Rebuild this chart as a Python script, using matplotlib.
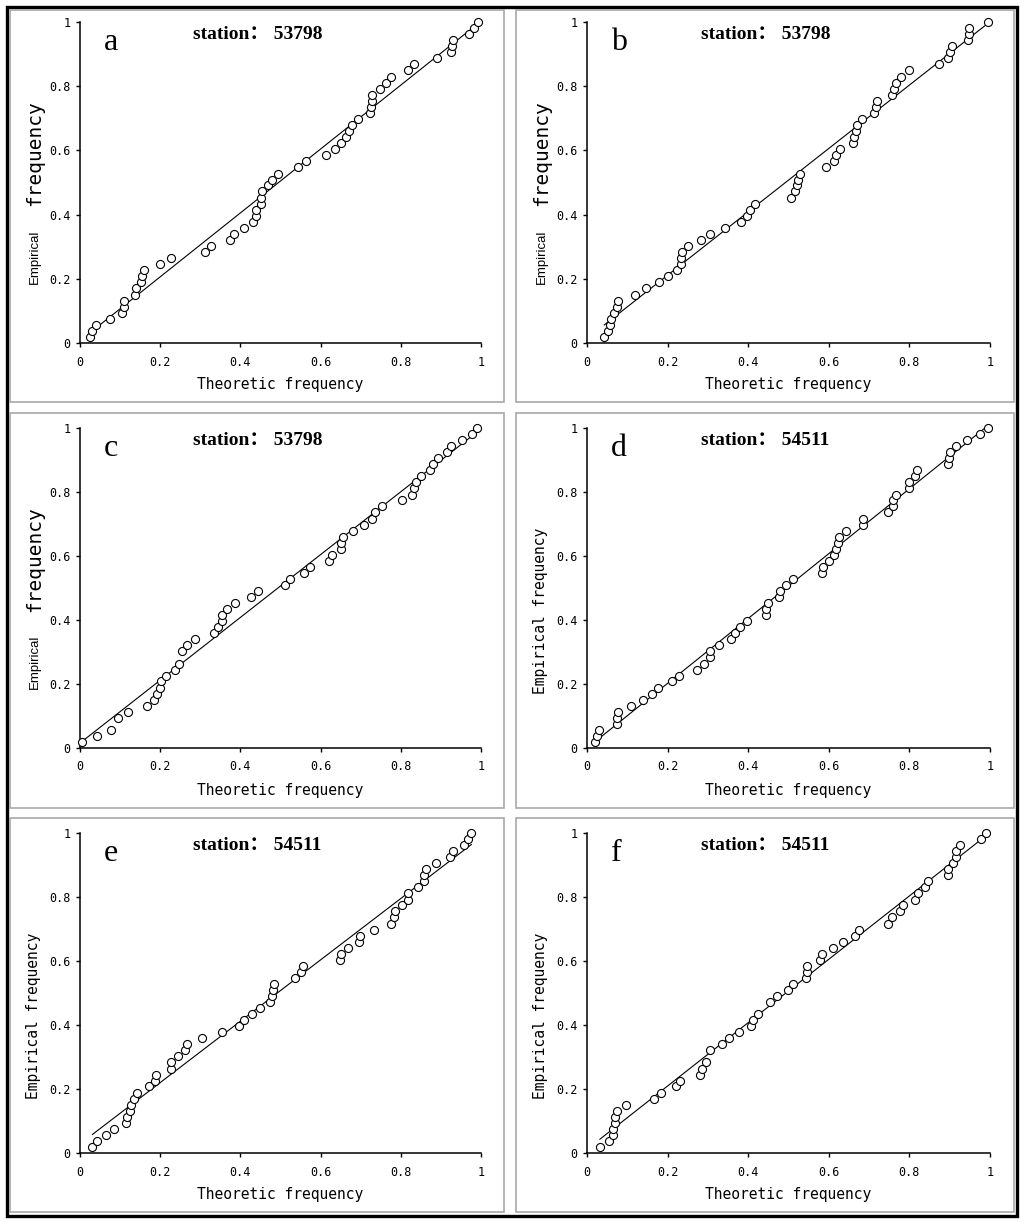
import numpy as np
import matplotlib
matplotlib.use("Agg")
import matplotlib.pyplot as plt
from matplotlib.patches import Rectangle

# ---------------- data ----------------
panel_letters = ["a", "b", "c", "d", "e", "f"]
stations = ["53798", "53798", "53798", "54511", "54511", "54511"]
tick_values = [0, 0.2, 0.4, 0.6, 0.8, 1]
tick_labels = ["0", "0.2", "0.4", "0.6", "0.8", "1"]

empirical_53 = [0.019, 0.038, 0.057, 0.075, 0.094, 0.113, 0.132, 0.151, 0.170, 0.189,
                0.208, 0.226, 0.245, 0.264, 0.283, 0.302, 0.321, 0.340, 0.358, 0.377,
                0.396, 0.415, 0.434, 0.453, 0.472, 0.491, 0.509, 0.528, 0.547, 0.566,
                0.585, 0.604, 0.623, 0.642, 0.660, 0.679, 0.698, 0.717, 0.736, 0.755,
                0.774, 0.792, 0.811, 0.830, 0.849, 0.868, 0.887, 0.906, 0.925, 0.943,
                0.962, 0.981, 1.000]

empirical_c = [0.019, 0.038, 0.057, 0.094, 0.113, 0.132, 0.151, 0.170, 0.189, 0.208,
               0.226, 0.245, 0.264, 0.302, 0.321, 0.340, 0.358, 0.377, 0.396, 0.415,
               0.434, 0.453, 0.472, 0.491, 0.509, 0.528, 0.547, 0.566, 0.585, 0.604,
               0.623, 0.642, 0.660, 0.679, 0.698, 0.717, 0.736, 0.755, 0.774, 0.792,
               0.811, 0.830, 0.849, 0.868, 0.887, 0.906, 0.925, 0.943, 0.962, 0.981,
               1.000]

empirical_f = [0.019, 0.038, 0.057, 0.075, 0.094, 0.113, 0.132, 0.151, 0.170, 0.189,
               0.208, 0.226, 0.245, 0.264, 0.283, 0.321, 0.340, 0.358, 0.377, 0.396,
               0.415, 0.434, 0.472, 0.491, 0.509, 0.528, 0.547, 0.566, 0.585, 0.604,
               0.623, 0.642, 0.660, 0.679, 0.698, 0.717, 0.736, 0.755, 0.774, 0.792,
               0.811, 0.830, 0.849, 0.868, 0.887, 0.906, 0.925, 0.943, 0.962, 0.981,
               1.000]

theoretic_a = [0.024, 0.031, 0.039, 0.076, 0.105, 0.109, 0.110, 0.138, 0.139, 0.153,
               0.154, 0.159, 0.199, 0.226, 0.312, 0.327, 0.373, 0.383, 0.409, 0.432,
               0.438, 0.440, 0.451, 0.452, 0.454, 0.469, 0.480, 0.495, 0.544, 0.563,
               0.614, 0.637, 0.650, 0.663, 0.671, 0.678, 0.694, 0.723, 0.725, 0.727,
               0.729, 0.747, 0.764, 0.776, 0.817, 0.832, 0.890, 0.925, 0.927, 0.929,
               0.969, 0.983, 0.993]

theoretic_b = [0.043, 0.052, 0.056, 0.059, 0.067, 0.074, 0.078, 0.119, 0.147, 0.178,
               0.200, 0.224, 0.233, 0.234, 0.235, 0.251, 0.284, 0.306, 0.343, 0.383,
               0.398, 0.405, 0.416, 0.507, 0.517, 0.522, 0.523, 0.529, 0.593, 0.614,
               0.618, 0.628, 0.659, 0.663, 0.668, 0.669, 0.683, 0.713, 0.718, 0.720,
               0.758, 0.762, 0.767, 0.780, 0.800, 0.874, 0.897, 0.901, 0.906, 0.945,
               0.948, 0.949, 0.995]

theoretic_c = [0.006, 0.043, 0.078, 0.094, 0.120, 0.167, 0.184, 0.193, 0.199, 0.203,
               0.214, 0.238, 0.247, 0.254, 0.266, 0.288, 0.333, 0.344, 0.353, 0.354,
               0.367, 0.387, 0.427, 0.444, 0.510, 0.524, 0.559, 0.573, 0.622, 0.629,
               0.650, 0.651, 0.656, 0.680, 0.707, 0.727, 0.735, 0.753, 0.803, 0.828,
               0.833, 0.837, 0.851, 0.874, 0.881, 0.894, 0.915, 0.924, 0.953, 0.977,
               0.989]

theoretic_d = [0.019, 0.025, 0.031, 0.074, 0.075, 0.077, 0.108, 0.140, 0.162, 0.177,
               0.212, 0.228, 0.272, 0.291, 0.305, 0.305, 0.328, 0.357, 0.368, 0.380,
               0.396, 0.443, 0.444, 0.450, 0.476, 0.478, 0.494, 0.510, 0.584, 0.586,
               0.601, 0.613, 0.618, 0.623, 0.626, 0.642, 0.684, 0.686, 0.748, 0.759,
               0.760, 0.767, 0.798, 0.798, 0.814, 0.819, 0.895, 0.899, 0.901, 0.916,
               0.944, 0.974, 0.995]

theoretic_e = [0.031, 0.042, 0.065, 0.085, 0.114, 0.118, 0.124, 0.126, 0.134, 0.142,
               0.173, 0.186, 0.190, 0.227, 0.228, 0.245, 0.262, 0.267, 0.305, 0.353,
               0.397, 0.409, 0.429, 0.448, 0.475, 0.478, 0.482, 0.483, 0.535, 0.552,
               0.555, 0.648, 0.650, 0.669, 0.695, 0.698, 0.732, 0.776, 0.783, 0.786,
               0.802, 0.818, 0.819, 0.844, 0.857, 0.857, 0.864, 0.887, 0.923, 0.929,
               0.957, 0.967, 0.976]

theoretic_f = [0.032, 0.054, 0.065, 0.065, 0.069, 0.070, 0.074, 0.096, 0.166, 0.183,
               0.222, 0.231, 0.281, 0.286, 0.296, 0.305, 0.334, 0.353, 0.378, 0.406,
               0.412, 0.425, 0.455, 0.471, 0.498, 0.512, 0.543, 0.545, 0.547, 0.577,
               0.582, 0.611, 0.635, 0.664, 0.674, 0.746, 0.757, 0.777, 0.783, 0.815,
               0.822, 0.839, 0.845, 0.896, 0.897, 0.907, 0.915, 0.916, 0.925, 0.978,
               0.989]

theoretic = [theoretic_a, theoretic_b, theoretic_c, theoretic_d, theoretic_e, theoretic_f]
empirical = [empirical_53, empirical_53, empirical_c, empirical_53, empirical_53, empirical_f]

# ---------------- layout (pixels) ----------------
W, H = 1024, 1222
fig = plt.figure(figsize=(W / 100, H / 100), dpi=100)
fig.patch.set_facecolor("white")

col_x = [(80, 481), (587, 990)]
row_y = [(22, 343), (428, 748), (833, 1153)]
box_cols = [(10, 504), (516, 1014)]
box_rows = [(10, 402), (413, 808), (818, 1212)]

MONO = "DejaVu Sans Mono"

def fig_rect(x0, y0, x1, y1):
    return [x0 / W, 1 - y1 / H, (x1 - x0) / W, (y1 - y0) / H]

# outer thick border
fig.add_artist(Rectangle((7 / W, 1 - 1216 / H), (1017 - 7) / W, (1216 - 7) / H,
                         transform=fig.transFigure, fill=False,
                         edgecolor="black", linewidth=2.4))

for i in range(6):
    r, c = divmod(i, 2)
    bx0, bx1 = box_cols[c]
    by0, by1 = box_rows[r]
    fig.add_artist(Rectangle((bx0 / W, 1 - by1 / H), (bx1 - bx0) / W, (by1 - by0) / H,
                             transform=fig.transFigure, fill=False,
                             edgecolor="#a8a8a8", linewidth=1.2))

    x0, x1 = col_x[c]
    y0, y1 = row_y[r]
    ax = fig.add_axes(fig_rect(x0, y0, x1, y1))
    xs = np.array(theoretic[i])
    ys = np.array(empirical[i])

    coef = np.polyfit(xs, ys, 1)
    lx = np.array([xs.min(), xs.max()])
    ax.plot(lx, np.polyval(coef, lx), color="black", linewidth=0.8, zorder=2)
    ax.plot(xs, ys, linestyle="none", marker="o", markersize=5.8,
            markerfacecolor="white", markeredgecolor="black",
            markeredgewidth=0.8, clip_on=False, zorder=3)

    ax.set_xlim(0, 1)
    ax.set_ylim(0, 1)
    ax.set_xticks(tick_values)
    ax.set_yticks(tick_values)
    ax.set_xticklabels(tick_labels, fontfamily=MONO, fontsize=8.5)
    ax.set_yticklabels(tick_labels, fontfamily=MONO, fontsize=8.5)
    for s in ["top", "right"]:
        ax.spines[s].set_visible(False)
    for s in ["left", "bottom"]:
        ax.spines[s].set_linewidth(1.1)
    ax.tick_params(direction="out", length=3, width=1.0, pad=4)
    ax.tick_params(axis="x", pad=6)
    ax.patch.set_alpha(0)

    ax.set_xlabel("Theoretic frequency", fontfamily=MONO, fontsize=10.5)
    ax.xaxis.set_label_coords(0.5, -42 / (y1 - y0))
    ax.xaxis.label.set_va("center")

    if i < 3:
        xl = -0.112
        ax.text(xl, 0.27, "Empirical", rotation=90, fontfamily="Liberation Sans",
                fontsize=9.5, ha="center", va="center", transform=ax.transAxes)
        ax.text(xl, 0.59, "frequency", rotation=90, fontfamily=MONO, fontsize=14,
                ha="center", va="center", transform=ax.transAxes)
    else:
        ax.set_ylabel("Empirical frequency", fontfamily=MONO, fontsize=10.5)
        ax.yaxis.set_label_coords(-0.115, 0.43)
        ax.yaxis.label.set_va("center")

    ax.text(0.06, 0.912, panel_letters[i], transform=ax.transAxes,
            fontfamily="Liberation Serif", fontsize=23, ha="left", va="baseline")
    ax.text(0.443, 0.947, "station\uff1a " + stations[i], transform=ax.transAxes,
            fontfamily=["Liberation Serif", "Noto Sans CJK SC"], fontweight="bold",
            fontsize=14, ha="center", va="baseline")

fig.savefig("out.png", dpi=100, facecolor="white")
